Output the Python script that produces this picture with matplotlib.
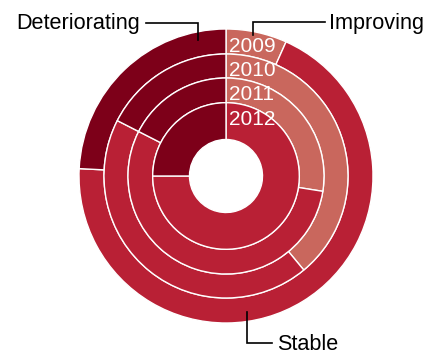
import matplotlib
matplotlib.use("Agg")
import matplotlib.pyplot as plt

# share of areas per year, in percent
years = ["2009", "2010", "2011", "2012"]
improving = [6.7, 39.0, 27.5, 0.0]
stable = [69.1, 43.5, 55.0, 75.0]
deteriorating = [24.2, 17.5, 17.5, 25.0]

colors = ["#c9675d", "#b92035", "#7d0019"]

# ring outer radii (px), outermost year first, and the hole radius
ring_outer = [147, 122, 98, 73.3]
hole = 36.5

plt.rcParams["font.family"] = ["Liberation Sans", "DejaVu Sans"]

fig = plt.figure(figsize=(4.4, 3.54), dpi=100)
ax = fig.add_axes([0, 0, 1, 1])

for i, year in enumerate(years):
    r = ring_outer[i]
    inner = ring_outer[i + 1] if i + 1 < len(ring_outer) else hole
    vals = [improving[i], stable[i], deteriorating[i]]
    ax.pie(vals, colors=colors, radius=r, startangle=90, counterclock=False,
           center=(0, 0), frame=True,
           wedgeprops=dict(width=r - inner, edgecolor="white", linewidth=1.0))
    ax.text(3, r - 22.5, year, color="white", fontsize=15,
            ha="left", va="baseline")

ax.set_xlim(-226, 214)
ax.set_ylim(-178, 176)
ax.set_aspect("equal")
ax.axis("off")

# leader lines for the legend labels
lk = dict(color="black", linewidth=1.2, solid_joinstyle="miter")
ax.plot([-80.3, -28.3, -28.3], [153.3, 153.3, 136], **lk)
ax.text(-86, 146.7, "Deteriorating", fontsize=15.6, ha="right", va="baseline")

ax.plot([99, 27.3, 27.3], [153.7, 153.7, 141], **lk)
ax.text(103, 146.7, "Improving", fontsize=15.6, ha="left", va="baseline")

ax.plot([20.7, 20.7, 45.7], [-135.7, -167.3, -167.3], **lk)
ax.text(51, -174, "Stable", fontsize=15.6, ha="left", va="baseline")

fig.savefig("out.png", dpi=100)
